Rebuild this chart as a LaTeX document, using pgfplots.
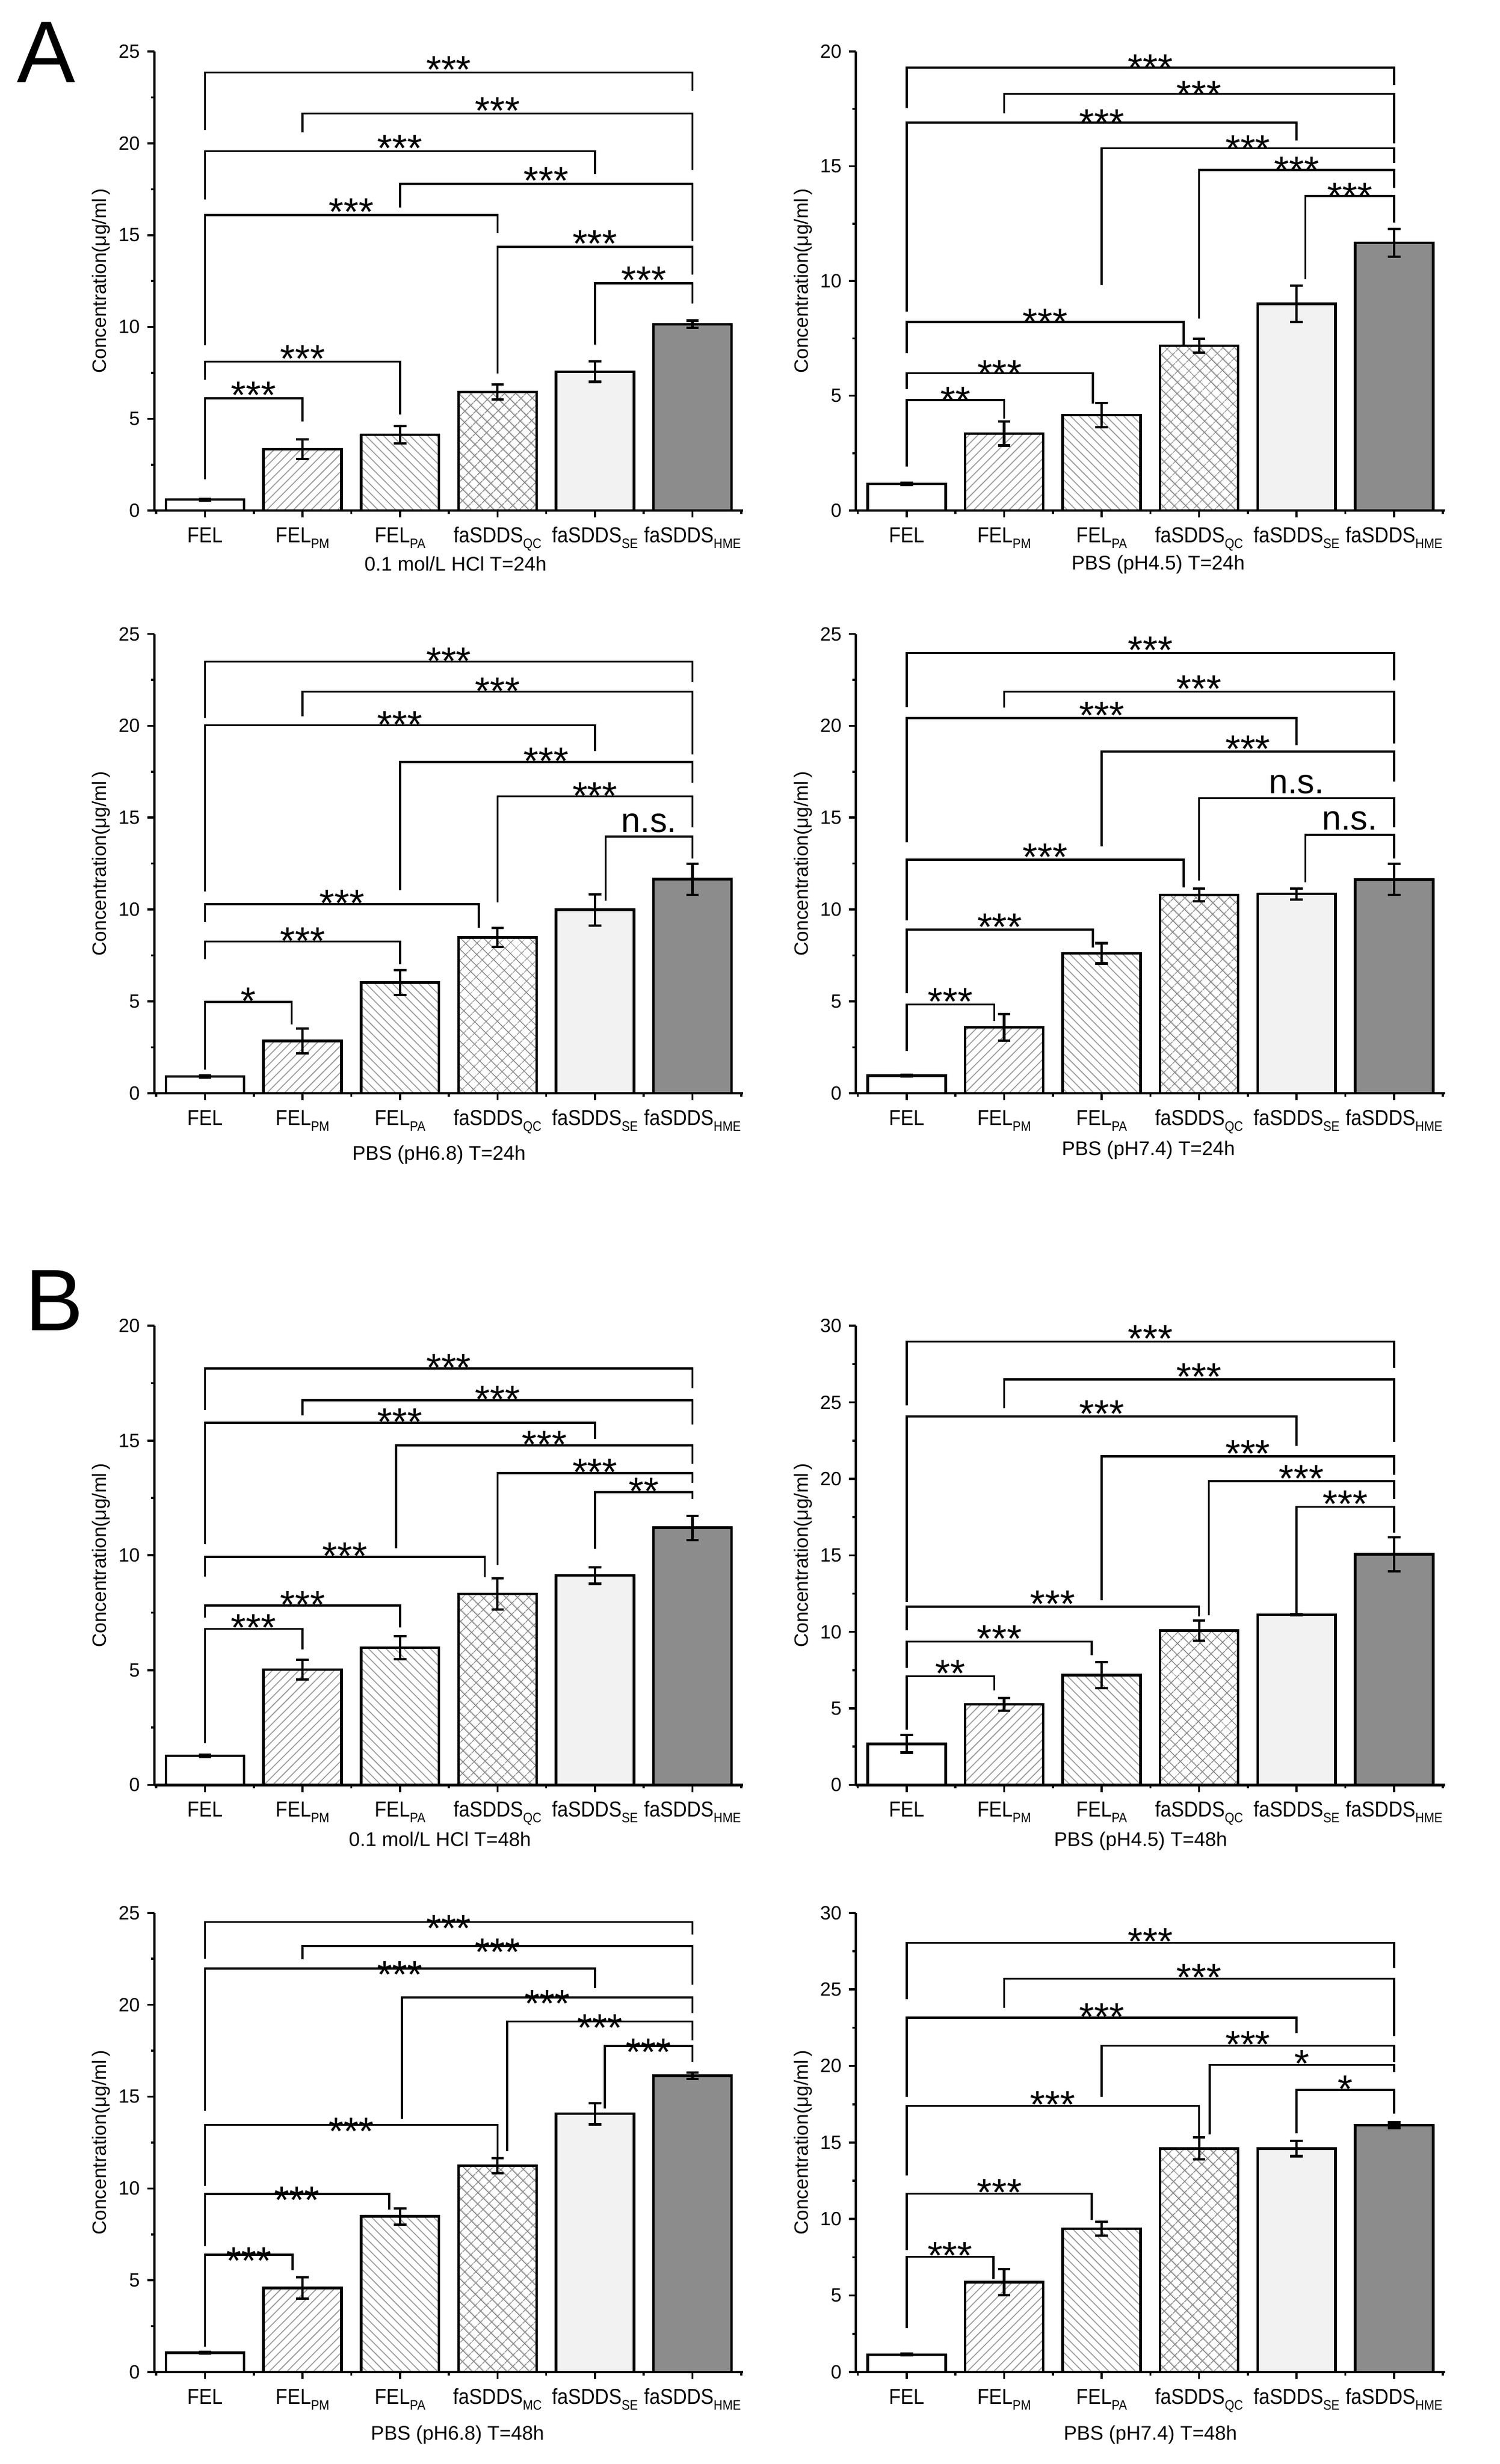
\documentclass[border=0pt]{standalone}
\usepackage{fontspec}
\setmainfont{Liberation Sans}
\newfontfamily\narrowfont{Liberation Sans}[FakeStretch=0.89]
\usepackage{pgfplots}
\pgfplotsset{compat=1.18}
\usetikzlibrary{patterns.meta,calc}

\newcommand{\sub}[1]{\raisebox{-2.8pt}{\fontsize{6.6}{6.6}\selectfont #1}}

\tikzset{
  s0/.style={draw=black, line width=1.25pt, fill=white, bar shift=0pt},
  s1/.style={draw=black, line width=1.25pt, pattern={Lines[angle=45,distance=3pt,line width=0.45pt]}, pattern color=black!40, bar shift=0pt},
  s2/.style={draw=black, line width=1.25pt, pattern={Lines[angle=-45,distance=3pt,line width=0.45pt]}, pattern color=black!40, bar shift=0pt},
  s3/.style={draw=black, line width=1.25pt, pattern={Hatch[angle=45,distance=4pt,line width=0.45pt]}, pattern color=black!45, bar shift=0pt},
  s4/.style={draw=black, line width=1.25pt, fill=black!5, bar shift=0pt},
  s5/.style={draw=black, line width=1.25pt, fill=black!45, bar shift=0pt},
  bracket/.style={draw=black, line width=1pt},
  star/.style={font=\fontsize{18.5}{18.5}\selectfont, anchor=base, inner sep=0pt, yshift=\sy},
  ns/.style={font=\fontsize{16.5}{16.5}\selectfont, anchor=base, inner sep=0pt, yshift=2.2pt},
  ttl/.style={font=\fontsize{9.5}{10}\selectfont, anchor=base, inner sep=0pt},
}

\newcommand{\bb}[4]{\addplot[#1] coordinates {(#2,#3) +- (0,#4)};}
\newcommand{\br}[6]{%
  \draw[bracket] (axis cs:#1,#4) -- (axis cs:#1,#3) -- (axis cs:#2,#3) -- (axis cs:#2,#5);
  \node[star] at ($(axis cs:#1,#3)!0.5!(axis cs:#2,#3)$) {#6};}
\newcommand{\brns}[6]{%
  \draw[bracket] (axis cs:#1,#4) -- (axis cs:#1,#3) -- (axis cs:#2,#3) -- (axis cs:#2,#5);
  \node[ns] at ($(axis cs:#1,#3)!0.5!(axis cs:#2,#3)$) {#6};}

\pgfplotsset{
 panel/.style={
  scale only axis, width=282.75pt, height=220.5pt,
  xmin=-0.52, xmax=5.52, ymin=0,
  axis x line*=bottom, axis y line*=left,
  axis line style={line width=1.2pt, black},
  tick align=outside,
  major tick length=3.4pt, minor tick length=1.6pt,
  every tick/.style={black, line width=1pt},
  xtick={0,...,5}, minor xtick={-0.5,0.5,1.5,2.5,3.5,4.5,5.5},
  minor y tick num=1, ytick distance=5,
  /pgf/number format/assume math mode=true,
  yticklabel style={font=\fontsize{9.2}{9.2}\selectfont},
  xticklabel style={font=\narrowfont\fontsize{10.4}{10.4}\selectfont, anchor=base, yshift=-12pt, inner xsep=0pt},
  xticklabels={FEL, FEL\sub{PM}, FEL\sub{PA}, faSDDS\sub{QC}, faSDDS\sub{SE}, faSDDS\sub{HME}},
  ylabel={Concentration(μg/ml\,)},
  ylabel style={font=\fontsize{9.3}{10}\selectfont, at={(axis description cs:-0.09,0.5)}, anchor=center},
  ybar, bar width=0.8,
  clip=false,
  error bars/y dir=both, error bars/y explicit,
  error bars/error bar style={line width=1.15pt, black},
  error bars/error mark options={rotate=90, mark size=3pt, line width=1.15pt, black},
 }
}

\begin{document}
\begin{tikzpicture}
\path[use as bounding box] (0,0) rectangle (720pt,1183.4pt);
\node[anchor=base west, inner sep=0pt, font=\fontsize{42}{42}\selectfont] at (8pt,1143.9pt) {A};
\node[anchor=base west, inner sep=0pt, font=\fontsize{42}{42}\selectfont] at (12pt,544.4pt) {B};

% ---------- A1 ----------
\def\sy{-5pt}
\begin{axis}[panel, at={(74.1pt,938.15pt)}, anchor=south west, ymax=25]
\bb{s0}{0}{0.6}{0.05}
\bb{s1}{1}{3.34}{0.54}
\bb{s2}{2}{4.13}{0.47}
\bb{s3}{3}{6.46}{0.42}
\bb{s4}{4}{7.57}{0.56}
\bb{s5}{5}{10.15}{0.2}
\br{0}{5}{23.85}{20.73}{22.85}{***}
\br{1}{5}{21.62}{20.59}{18.54}{***}
\br{0}{4}{19.57}{16.95}{18.34}{***}
\br{2}{5}{17.8}{16.51}{14.67}{***}
\br{0}{3}{16.1}{9.0}{15.12}{***}
\br{3}{5}{14.37}{7.47}{12.84}{***}
\br{4}{5}{12.38}{9.04}{11.29}{***}
\br{0}{2}{8.11}{7.11}{5.23}{***}
\br{0}{1}{6.12}{1.71}{4.87}{***}
\node[ttl, yshift=-29pt] at (axis cs:2.57,0) {0.1 mol/L HCl T=24h};
\end{axis}

% ---------- A2 ----------
\def\sy{-6.6pt}
\begin{axis}[panel, at={(411pt,938.15pt)}, anchor=south west, ymax=20]
\bb{s0}{0}{1.16}{0.05}
\bb{s1}{1}{3.36}{0.52}
\bb{s2}{2}{4.16}{0.53}
\bb{s3}{3}{7.18}{0.3}
\bb{s4}{4}{9.01}{0.8}
\bb{s5}{5}{11.67}{0.6}
\br{0}{5}{19.3}{17.53}{18.55}{***}
\br{1}{5}{18.15}{17.32}{16.0}{***}
\br{0}{4}{16.9}{8.68}{16.13}{***}
\br{2}{5}{15.78}{9.84}{15.14}{***}
\br{3}{5}{14.84}{8.36}{14.06}{***}
\br{4.09}{5}{13.71}{10.08}{12.55}{***}
\br{0}{2.84}{8.22}{6.85}{7.21}{***}
\br{0}{1.91}{5.99}{5.3}{4.67}{***}
\br{0}{1}{4.82}{1.91}{4.0}{**}
\node[ttl, yshift=-28.5pt] at (axis cs:2.58,0) {PBS (pH4.5) T=24h};
\end{axis}

% ---------- A3 ----------
\def\sy{-6.1pt}
\begin{axis}[panel, at={(74.1pt,658.4pt)}, anchor=south west, ymax=25]
\bb{s0}{0}{0.91}{0.06}
\bb{s1}{1}{2.84}{0.67}
\bb{s2}{2}{6.02}{0.67}
\bb{s3}{3}{8.47}{0.52}
\bb{s4}{4}{9.98}{0.85}
\bb{s5}{5}{11.65}{0.85}
\br{0}{5}{23.49}{20.43}{22.36}{***}
\br{1}{5}{21.86}{20.53}{18.44}{***}
\br{0}{4}{20.03}{10.99}{18.64}{***}
\br{2}{5}{18.04}{11.03}{16.91}{***}
\br{3}{5}{16.16}{10.39}{14.47}{***}
\brns{4.11}{5}{13.97}{10.49}{12.78}{n.s.}
\br{0}{2.81}{10.29}{9.3}{9.0}{***}
\br{0}{2}{8.25}{7.31}{7.02}{***}
\br{0}{0.89}{4.97}{1.29}{3.74}{*}
\node[ttl, yshift=-32.25pt] at (axis cs:2.4,0) {PBS (pH6.8) T=24h};
\end{axis}

% ---------- A4 ----------
\def\sy{-5.1pt}
\begin{axis}[panel, at={(411pt,658.4pt)}, anchor=south west, ymax=25]
\bb{s0}{0}{0.95}{0.05}
\bb{s1}{1}{3.58}{0.72}
\bb{s2}{2}{7.61}{0.55}
\bb{s3}{3}{10.79}{0.34}
\bb{s4}{4}{10.85}{0.3}
\bb{s5}{5}{11.63}{0.85}
\br{0}{5}{23.97}{21.03}{22.46}{***}
\br{1}{5}{21.86}{20.99}{19.04}{***}
\br{0}{4}{20.43}{13.67}{18.94}{***}
\br{2}{5}{18.6}{13.43}{16.95}{***}
\brns{3}{5}{16.06}{11.59}{14.47}{n.s.}
\brns{4.09}{5}{14.07}{11.49}{12.78}{n.s.}
\br{0}{2.84}{12.72}{9.4}{11.19}{***}
\br{0}{1.91}{8.9}{5.43}{7.91}{***}
\br{0}{0.9}{4.83}{2.29}{3.93}{***}
\node[ttl, yshift=-30pt] at (axis cs:2.48,0) {PBS (pH7.4) T=24h};
\end{axis}

% ---------- B1 ----------
\def\sy{-6pt}
\begin{axis}[panel, at={(74.1pt,326.15pt)}, anchor=south west, ymax=20]
\bb{s0}{0}{1.27}{0.04}
\bb{s1}{1}{5.02}{0.43}
\bb{s2}{2}{5.98}{0.51}
\bb{s3}{3}{8.32}{0.68}
\bb{s4}{4}{9.12}{0.36}
\bb{s5}{5}{11.2}{0.53}
\br{0}{5}{18.14}{16.33}{17.29}{***}
\br{1}{5}{16.76}{16.1}{15.7}{***}
\br{0}{4}{15.78}{10.49}{15.06}{***}
\br{1.96}{5}{14.79}{10.31}{13.99}{***}
\br{3}{5}{13.58}{9.59}{13.15}{***}
\br{4}{5}{12.75}{10.28}{12.46}{**}
\br{0}{2.87}{9.93}{9.08}{9.05}{***}
\br{0}{2}{7.81}{7.3}{6.85}{***}
\br{0}{1}{6.8}{1.83}{5.9}{***}
\node[ttl, yshift=-29.5pt] at (axis cs:2.41,0) {0.1 mol/L HCl T=48h};
\end{axis}

% ---------- B2 ----------
\def\sy{-5pt}
\begin{axis}[panel, at={(411pt,326.15pt)}, anchor=south west, ymax=30]
\bb{s0}{0}{2.68}{0.57}
\bb{s1}{1}{5.26}{0.42}
\bb{s2}{2}{7.17}{0.84}
\bb{s3}{3}{10.09}{0.66}
\bb{s4}{4}{11.12}{0.05}
\bb{s5}{5}{15.06}{1.12}
\br{0}{5}{28.97}{24.81}{27.25}{***}
\br{1}{5}{26.49}{24.62}{22.42}{***}
\br{0}{4}{24.07}{11.95}{22.16}{***}
\br{2}{5}{21.47}{12.07}{20.27}{***}
\br{3.1}{5}{19.84}{11.07}{18.69}{***}
\br{4}{5}{18.17}{11.24}{16.5}{***}
\br{0}{3}{11.64}{10.09}{11.0}{***}
\br{0}{1.9}{9.37}{7.65}{8.49}{***}
\br{0}{0.9}{7.1}{3.59}{6.17}{**}
\node[ttl, yshift=-29.5pt] at (axis cs:2.4,0) {PBS (pH4.5) T=48h};
\end{axis}

% ---------- B3 ----------
\def\sy{-9.4pt}
\begin{axis}[panel, at={(74.1pt,44.15pt)}, anchor=south west, ymax=25,
  xticklabels={FEL, FEL\sub{PM}, FEL\sub{PA}, faSDDS\sub{MC}, faSDDS\sub{SE}, faSDDS\sub{HME}}]
\bb{s0}{0}{1.05}{0.04}
\bb{s1}{1}{4.58}{0.58}
\bb{s2}{2}{8.48}{0.44}
\bb{s3}{3}{11.24}{0.42}
\bb{s4}{4}{14.07}{0.58}
\bb{s5}{5}{16.14}{0.18}
\br{0}{5}{24.51}{22.51}{23.84}{***}
\br{1}{5}{23.2}{22.47}{21.1}{***}
\br{0}{4}{21.98}{14.24}{20.89}{***}
\br{2.02}{5}{20.4}{13.78}{19.56}{***}
\br{3.1}{5}{19.09}{12.03}{18.08}{***}
\br{4.1}{5}{17.76}{14.35}{16.88}{***}
\br{0}{3}{13.46}{10.13}{11.71}{***}
\br{0}{1.89}{9.7}{6.86}{8.86}{***}
\br{0}{0.9}{6.39}{1.37}{5.55}{***}
\node[ttl, yshift=-32.6pt] at (axis cs:2.59,0) {PBS (pH6.8) T=48h};
\end{axis}

% ---------- B4 ----------
\def\sy{-5.9pt}
\begin{axis}[panel, at={(411pt,44.15pt)}, anchor=south west, ymax=30]
\bb{s0}{0}{1.14}{0.05}
\bb{s1}{1}{5.87}{0.86}
\bb{s2}{2}{9.37}{0.44}
\bb{s3}{3}{14.61}{0.72}
\bb{s4}{4}{14.61}{0.5}
\bb{s5}{5}{16.13}{0.17}
\br{0}{5}{28.05}{24.35}{26.41}{***}
\br{1}{5}{25.7}{23.8}{21.95}{***}
\br{0}{4}{23.16}{17.97}{22.15}{***}
\br{2}{5}{21.32}{17.97}{20.25}{***}
\br{3.11}{5}{20.08}{15.52}{19.62}{*}
\br{4}{5}{18.43}{15.62}{16.89}{*}
\br{0}{3}{17.39}{12.84}{15.32}{***}
\br{0}{1.9}{11.65}{7.97}{9.95}{***}
\br{0}{0.89}{7.54}{2.86}{6.08}{***}
\node[ttl, yshift=-32.6pt] at (axis cs:2.5,0) {PBS (pH7.4) T=48h};
\end{axis}
\end{tikzpicture}
\end{document}
